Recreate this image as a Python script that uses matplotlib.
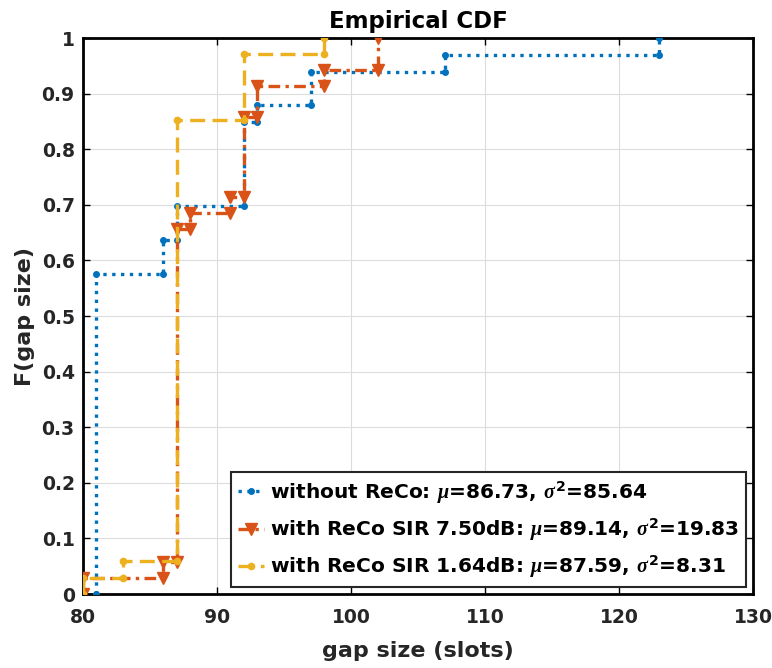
import numpy as np
import matplotlib
matplotlib.use('Agg')
import matplotlib.pyplot as plt

plt.rcParams['font.family'] = ['DejaVu Sans']
plt.rcParams['font.weight'] = 'bold'
plt.rcParams['mathtext.fontset'] = 'custom'
plt.rcParams['mathtext.rm'] = 'DejaVu Sans:bold'
plt.rcParams['mathtext.bf'] = 'DejaVu Sans:bold'
plt.rcParams['mathtext.it'] = 'Liberation Serif:italic'

# gap sizes (unique values) and how often each occurs
blue_vals = [81, 86, 87, 92, 93, 97, 107, 123]
blue_cnt = [19, 2, 2, 5, 1, 2, 1, 1]
red_vals = [80, 86, 87, 88, 91, 92, 93, 98, 102]
red_cnt = [1, 1, 21, 1, 1, 5, 2, 1, 2]
yel_vals = [80, 83, 87, 92, 98]
yel_cnt = [1, 1, 27, 4, 1]

labels = [r'without ReCo: $\mu$=86.73, $\sigma^{2}$=85.64',
          r'with ReCo SIR 7.50dB: $\mu$=89.14, $\sigma^{2}$=19.83',
          r'with ReCo SIR 1.64dB: $\mu$=87.59, $\sigma^{2}$=8.31']
colors = ['#0072BD', '#D95319', '#EDB120']
xticks = [80, 90, 100, 110, 120, 130]
yticks = [0, 0.1, 0.2, 0.3, 0.4, 0.5, 0.6, 0.7, 0.8, 0.9, 1]
ytick_labels = ['0', '0.1', '0.2', '0.3', '0.4', '0.5', '0.6', '0.7', '0.8', '0.9', '1']


def stairs(vals, cnt):
    # empirical cdf as stair vertices (like matlab cdfplot)
    f = np.cumsum(cnt) / np.sum(cnt)
    xs, ys = [vals[0]], [0.0]
    for i, v in enumerate(vals):
        if i > 0:
            xs.append(v)
            ys.append(f[i - 1])
        xs.append(v)
        ys.append(f[i])
    return xs, ys


fig = plt.figure(figsize=(7.72, 6.68), dpi=100)
ax = fig.add_axes([83 / 772, 1 - 594 / 668, 670 / 772, 556 / 668])

x, y = stairs(blue_vals, blue_cnt)
ax.plot(x, y, linestyle=':', color=colors[0], lw=2.4, marker='o', ms=4,
        dash_capstyle='butt', label=labels[0], zorder=3)
x, y = stairs(red_vals, red_cnt)
ax.plot(x, y, linestyle=(0, (3.5, 1.6, 1, 1.6)), color=colors[1], lw=2.4, marker='v', ms=9,
        label=labels[1], zorder=4)
x, y = stairs(yel_vals, yel_cnt)
ax.plot(x, y, linestyle=(0, (4.5, 2.2)), color=colors[2], lw=2.4, marker='o', ms=4.5,
        label=labels[2], zorder=5)

ax.set_xlim(80, 130)
ax.set_ylim(0, 1)
ax.set_xticks(xticks)
ax.set_yticks(yticks)
ax.set_yticklabels(ytick_labels)
ax.grid(True, color='#dcdcdc', lw=0.8)
ax.set_axisbelow(True)
ax.tick_params(direction='in', top=True, right=True, labelsize=13.5, labelcolor='#262626',
               width=1, length=5)
ax.tick_params(axis='x', pad=10)
ax.tick_params(axis='y', pad=6)
for s in ax.spines.values():
    s.set_linewidth(2)

ax.set_title('Empirical CDF', fontsize=16.5, fontweight='bold', pad=7)
ax.set_xlabel('gap size (slots)', fontsize=16, fontweight='bold', color='#262626', labelpad=10)
ax.set_ylabel('F(gap size)', fontsize=16, fontweight='bold', color='#262626', labelpad=5)

leg = ax.legend(loc='lower right', bbox_to_anchor=(0.99, 0.012), borderaxespad=0,
                fontsize=14.5, handlelength=1.3, handletextpad=0.3, numpoints=1,
                fancybox=False, framealpha=1, edgecolor='#262626', borderpad=0.35,
                labelspacing=0.55)
leg.get_frame().set_linewidth(1.5)

plt.savefig('out.png', dpi=100)
plt.close()
